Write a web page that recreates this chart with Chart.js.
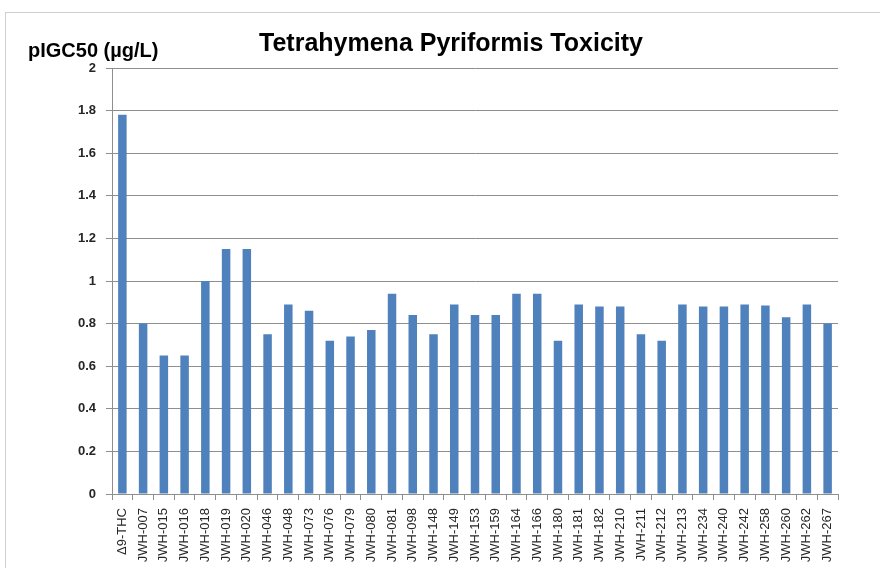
<!DOCTYPE html>
<html>
<head>
<meta charset="utf-8">
<script src="https://cdn.jsdelivr.net/npm/chart.js@4"></script>
<style>
  body { margin: 0; background: #fff; }
</style>
</head>
<body>
<canvas id="chart" width="880" height="568"></canvas>
<script>
// compounds along the x axis
const compounds = ['\u03949-THC', 'JWH-007', 'JWH-015', 'JWH-016', 'JWH-018', 'JWH-019', 'JWH-020',
   'JWH-046', 'JWH-048', 'JWH-073', 'JWH-076', 'JWH-079', 'JWH-080', 'JWH-081', 'JWH-098',
   'JWH-148', 'JWH-149', 'JWH-153', 'JWH-159', 'JWH-164', 'JWH-166', 'JWH-180', 'JWH-181',
   'JWH-182', 'JWH-210', 'JWH-211', 'JWH-212', 'JWH-213', 'JWH-234', 'JWH-240', 'JWH-242',
   'JWH-258', 'JWH-260', 'JWH-262', 'JWH-267'];

// pIGC50 values
const pigc50 = [1.78, 0.80, 0.65, 0.65, 1.00, 1.15, 1.15,
   0.75, 0.89, 0.86, 0.72, 0.74, 0.77, 0.94, 0.84,
   0.75, 0.89, 0.84, 0.84, 0.94, 0.94, 0.72, 0.89,
   0.88, 0.88, 0.75, 0.72, 0.89, 0.88, 0.88, 0.89,
   0.885, 0.83, 0.89, 0.80];

const chartTitle = 'Tetrahymena Pyriformis Toxicity';
const yTitle = 'pIGC50 (\u00b5g/L)';

const GRID = '#8e8e8e';
const TEXT = '#262626';
const FONT = '"Liberation Sans", Arial, sans-serif';

// frame round the chart and the horizontal y title
const decorations = {
   id: 'decorations',
   beforeDraw(chart) {
      const ctx = chart.ctx;
      ctx.save();
      ctx.strokeStyle = '#cfcfcf';
      ctx.lineWidth = 1;
      ctx.strokeRect(5.5, 12.5, 900, 600);
      ctx.restore();
   },
   afterDraw(chart) {
      const ctx = chart.ctx;
      ctx.save();
      ctx.fillStyle = '#000';
      ctx.font = 'bold 20px ' + FONT;
      ctx.textBaseline = 'alphabetic';
      ctx.fillText(yTitle, 28, 57);
      ctx.restore();
   }
};

new Chart(document.getElementById('chart'), {
   type: 'bar',
   data: {
      labels: compounds,
      datasets: [{
         data: pigc50,
         backgroundColor: '#4f81bd',
         borderWidth: 0,
         barPercentage: 0.41,
         categoryPercentage: 1
      }]
   },
   options: {
      responsive: false,
      animation: false,
      devicePixelRatio: 1,
      layout: { padding: { left: 64, right: 42, top: 0, bottom: 0 } },
      plugins: {
         legend: { display: false },
         tooltip: { enabled: false },
         title: {
            display: true,
            text: chartTitle,
            color: '#000',
            font: { family: FONT, size: 25, weight: 'bold', lineHeight: 1.0 },
            padding: { top: 32, bottom: 11 }
         }
      },
      scales: {
         x: {
            offset: true,
            grid: { display: true, drawOnChartArea: false, drawTicks: true, tickLength: 6, color: GRID, offset: true },
            border: { color: GRID, width: 1 },
            ticks: {
               autoSkip: false, maxRotation: 90, minRotation: 90, padding: 8,
               color: TEXT, font: { family: FONT, size: 13 }
            },
            afterFit(scale) { scale.height = 74; }
         },
         y: {
            min: 0, max: 2,
            grid: { color: GRID, tickLength: 6, lineWidth: 1 },
            border: { color: GRID, width: 1 },
            ticks: {
               stepSize: 0.2, padding: 10,
               color: TEXT, font: { family: FONT, size: 13, weight: 'bold' },
               callback: (v) => Math.round(v * 10) / 10
            },
            afterFit(scale) { scale.width = 48; }
         }
      }
   },
   plugins: [decorations]
});
</script>
</body>
</html>
